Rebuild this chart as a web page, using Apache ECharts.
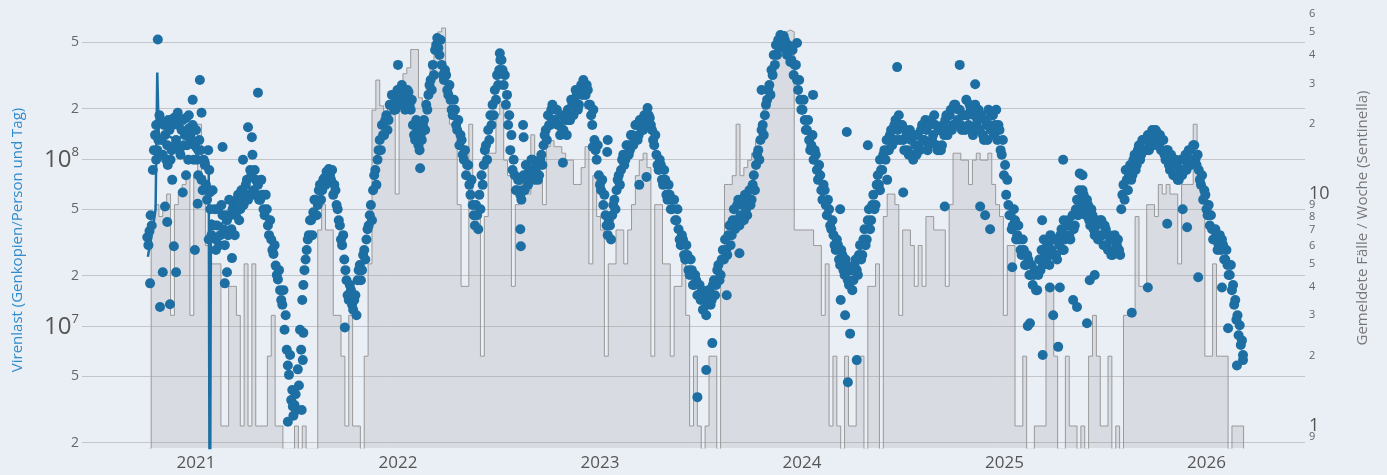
<!DOCTYPE html>
<html>
<head>
<meta charset="utf-8">
<script src="https://cdn.jsdelivr.net/npm/echarts@6/dist/echarts.min.js"></script>
<style>
  html, body { margin: 0; padding: 0; background: #eaeef5; }
  #chart { width: 1387px; height: 475px; }
</style>
</head>
<body>
<div id="chart"></div>
<script>
// Viral load in wastewater, millions of gene copies per person and day.
// Two interleaved runs of readings, each one reading every 4 days.
const loadStepDays = 4;
const loadStartA = '2020-10-05';
const loadMillionsA = [
  34, 37, 40, 113, 160, 130, 171, 106, 139, 121,
  149, 113, 176, 130, 160, 106, 171, 139, 121, 153,
  130, 99, 149, 80, 113, 65, 92, 57, 86, 35,
  40, 33, 50, 35, 46, 30.5, 43, 57, 38, 53,
  46, 61, 50, 65, 57, 75, 61, 80, 65, 75,
  70, 57, 61, 46, 50, 35, 33, 27, 23, 19,
  16.4, 13.4, 9.5, 7.2, 5.1, 3.6, 2.9, 3.9, 5.5, 9.5,
  14.3, 21.6, 28.5, 35, 43, 48, 57, 53, 70, 65,
  77, 84, 87, 75, 61, 65, 50, 40, 30.5, 25,
  18.8, 14.3, 16.4, 12.5, 15.3, 18.8, 23.2, 21.6, 28.5, 33,
  40, 53, 65, 86, 99, 130, 160, 139, 183, 171,
  211, 242, 197, 259, 226, 277, 242, 211, 252, 197,
  160, 130, 149, 113, 130, 171, 211, 242, 297, 366,
  450, 530, 420, 366, 297, 318, 242, 226, 183, 197,
  149, 121, 130, 99, 80, 92, 61, 53, 40, 46,
  61, 80, 92, 121, 149, 183, 211, 259, 318, 341,
  392, 277, 211, 160, 113, 86, 80, 65, 75, 57,
  80, 92, 70, 86, 99, 75, 92, 80, 106, 121,
  149, 183, 160, 211, 171, 197, 160, 183, 149, 171,
  197, 171, 211, 226, 242, 211, 277, 297, 242, 259,
  211, 160, 130, 99, 80, 65, 53, 46, 35, 40,
  46, 57, 65, 80, 86, 106, 99, 121, 113, 139,
  130, 160, 139, 171, 149, 183, 202, 176, 149, 121,
  106, 86, 92, 70, 75, 57, 61, 50, 57, 43,
  38, 30.5, 33, 25, 26.6, 20.2, 21.6, 17.6, 18.8, 15.3,
  14.3, 12.5, 15.3, 13.4, 16.4, 14.3, 18.8, 17.6, 23.2, 20.2,
  28.5, 33, 26.6, 40, 35, 50, 43, 57, 46, 53,
  61, 46, 65, 57, 80, 92, 113, 130, 160, 183,
  226, 277, 341, 420, 482, 516, 553, 482, 516, 420,
  450, 392, 318, 366, 259, 226, 197, 171, 149, 130,
  121, 99, 106, 75, 80, 57, 65, 46, 50, 38,
  35, 28.5, 30.5, 23.2, 26.6, 20.2, 23.2, 17.6, 21.6, 18.8,
  25, 20.2, 30.5, 26.6, 38, 33, 50, 43, 61, 53,
  80, 99, 86, 113, 130, 113, 149, 130, 171, 149,
  130, 160, 113, 139, 106, 130, 99, 121, 139, 113,
  160, 130, 149, 121, 171, 139, 160, 113, 149, 121,
  139, 183, 149, 197, 160, 211, 171, 197, 149, 183,
  226, 160, 197, 139, 211, 171, 149, 183, 130, 160,
  197, 149, 183, 160, 130, 149, 106, 80, 61, 53,
  46, 40, 43, 35, 33, 26.6, 28.5, 23.2, 25, 20.2,
  17.6, 21.6, 16.4, 25, 28.5, 33, 25, 30.5, 35, 26.6,
  33, 25, 30.5, 38, 28.5, 35, 43, 33, 46, 40,
  57, 65, 53, 61, 46, 53, 40, 46, 35, 40,
  35, 43, 30.5, 38, 28.5, 33, 26.6, 35, 30.5, 28.5,
  50, 70, 86, 65, 92, 80, 106, 92, 121, 106,
  130, 113, 139, 121, 149, 130, 145, 121, 113, 130,
  99, 113, 86, 99, 80, 92, 75, 99, 86, 106,
  92, 113, 99, 121, 92, 86, 70, 57, 61, 46,
  40, 38, 33, 35, 30.5, 28.5, 30.5, 25, 23.2, 20.2,
  16.4, 13.4, 10.9, 8.8, 7.7, 6.7
];
const loadStartB = '2020-10-07';
const loadMillionsB = [
  30.5, 46, 86, 139, 113, 183, 130, 160, 99, 171,
  99, 160, 121, 183, 113, 149, 121, 176, 99, 139,
  160, 121, 99, 130, 75, 99, 70, 113, 50, 65,
  50, 40, 30.5, 53, 38, 46, 35, 46, 50, 35,
  57, 43, 65, 53, 70, 57, 86, 61, 86, 61,
  57, 75, 50, 61, 40, 43, 28.5, 30.5, 20.2, 21.6,
  14.3, 16.4, 11.6, 5.8, 6.7, 4.14, 3.36, 3.14, 4.4, 7.2,
  17.6, 25, 33, 43, 35, 57, 46, 65, 57, 75,
  70, 75, 80, 86, 70, 53, 43, 33, 35, 21.6,
  15.3, 17.6, 13.4, 14.3, 11.6, 21.6, 18.8, 26.6, 25, 38,
  46, 43, 80, 70, 113, 113, 139, 171, 149, 211,
  242, 197, 226, 211, 259, 226, 197, 259, 211, 226,
  139, 171, 121, 139, 160, 149, 197, 277, 259, 318,
  482, 462, 516, 318, 341, 259, 277, 197, 226, 160,
  171, 139, 106, 113, 92, 70, 75, 46, 53, 38,
  50, 70, 113, 99, 130, 160, 183, 226, 277, 392,
  341, 318, 242, 183, 139, 99, 65, 75, 61, 65,
  65, 75, 86, 99, 80, 86, 75, 99, 92, 139,
  130, 160, 197, 171, 197, 160, 139, 149, 183, 139,
  171, 226, 183, 259, 197, 259, 242, 259, 277, 211,
  183, 197, 113, 121, 70, 75, 61, 40, 43, 33,
  53, 50, 75, 70, 99, 92, 121, 106, 139, 121,
  160, 130, 171, 149, 183, 160, 183, 160, 130, 139,
  92, 99, 75, 86, 61, 70, 50, 57, 43, 50,
  33, 35, 26.6, 30.5, 21.6, 25, 17.6, 20.2, 15.3, 17.6,
  16.4, 14.3, 11.6, 16.4, 13.4, 17.6, 15.3, 21.6, 18.8, 25,
  25, 28.5, 35, 30.5, 43, 38, 53, 40, 57, 43,
  50, 57, 53, 70, 65, 106, 99, 149, 139, 211,
  259, 242, 318, 366, 420, 462, 502, 545, 450, 482,
  381, 450, 366, 297, 297, 197, 226, 149, 171, 113,
  139, 113, 86, 92, 65, 70, 53, 57, 40, 43,
  30.5, 33, 25, 28.5, 21.6, 25, 18.8, 21.6, 16.4, 23.2,
  21.6, 26.6, 25, 33, 30.5, 43, 38, 53, 50, 70,
  70, 86, 106, 99, 113, 139, 121, 160, 130, 183,
  160, 130, 149, 113, 149, 106, 139, 106, 121, 149,
  130, 171, 113, 160, 130, 183, 121, 149, 113, 160,
  171, 139, 183, 149, 211, 160, 197, 160, 183, 149,
  183, 211, 149, 183, 160, 197, 183, 139, 171, 130,
  160, 183, 139, 197, 160, 113, 130, 92, 75, 46,
  38, 50, 33, 40, 28.5, 33, 23.2, 26.6, 20.2, 23.2,
  20.2, 16.4, 20.2, 21.6, 23.2, 26.6, 30.5, 23.2, 28.5, 33,
  26.6, 33, 35, 28.5, 33, 40, 35, 40, 38, 50,
  46, 53, 65, 50, 57, 43, 50, 38, 43, 33,
  43, 35, 40, 30.5, 35, 26.6, 33, 28.5, 33, 26.6,
  61, 57, 75, 80, 75, 99, 86, 113, 99, 130,
  113, 130, 113, 139, 121, 149, 121, 139, 130, 106,
  113, 92, 106, 80, 99, 75, 86, 80, 99, 86,
  113, 92, 121, 99, 106, 75, 80, 65, 50, 53,
  46, 33, 38, 28.5, 35, 33, 25, 28.5, 20.2, 23.2,
  17.6, 14.3, 11.6, 10.1, 8.2
];

// Readings that sit away from the main band: [date, millions]
const loadSingles = [
  ['2020-10-10', 18], ['2020-10-24', 520], ['2020-10-28', 13], ['2020-11-15', 13.5],
  ['2020-11-02', 21], ['2020-11-06', 52], ['2020-11-10', 42], ['2020-11-22', 30],
  ['2020-11-26', 21], ['2020-12-08', 63], ['2020-12-26', 226], ['2021-01-08', 297],
  ['2020-12-30', 28.5], ['2021-01-04', 54], ['2020-11-29', 189], ['2021-01-11', 189],
  ['2021-02-18', 118], ['2021-02-22', 18], ['2021-02-26', 21], ['2021-04-05', 155],
  ['2021-04-12', 135], ['2021-04-13', 106], ['2021-03-27', 99], ['2021-04-23', 249],
  ['2021-06-16', 2.67], ['2021-06-25', 3.3], ['2021-07-11', 3.14], ['2021-07-13', 6.25],
  ['2021-07-14', 9.1], ['2021-09-27', 9.8], ['2022-01-01', 366], ['2022-02-10', 88],
  ['2022-07-04', 430], ['2022-08-15', 160], ['2022-08-16', 135], ['2022-08-10', 38],
  ['2022-08-11', 30], ['2022-10-26', 95], ['2022-12-19', 118], ['2023-01-15', 130],
  ['2023-01-14', 110], ['2023-03-13', 70], ['2023-03-26', 78], ['2023-07-23', 7.9],
  ['2023-07-12', 5.45], ['2023-06-26', 3.75], ['2023-08-18', 15.3], ['2023-09-10', 27.3],
  ['2023-10-20', 259], ['2023-12-23', 495], ['2024-01-21', 242], ['2024-03-22', 145],
  ['2024-03-10', 50], ['2024-03-11', 14.3], ['2024-03-19', 11.6], ['2024-03-28', 9],
  ['2024-04-09', 6.25], ['2024-03-24', 4.6], ['2024-04-29', 121], ['2024-06-21', 355],
  ['2024-07-02', 63], ['2024-05-21', 65], ['2024-06-03', 75], ['2024-10-12', 366],
  ['2024-11-09', 280], ['2024-09-15', 52], ['2024-11-18', 52], ['2024-11-27', 46],
  ['2024-12-06', 38], ['2025-01-15', 22.5], ['2025-02-16', 10.4], ['2025-03-11', 6.7],
  ['2025-04-08', 7.5], ['2025-03-30', 11.6], ['2025-03-24', 17], ['2025-04-11', 17],
  ['2025-03-10', 43], ['2025-04-17', 99], ['2025-05-05', 14.3], ['2025-05-12', 13],
  ['2025-05-30', 10.4], ['2025-05-17', 82], ['2025-06-04', 18.8], ['2025-08-19', 12],
  ['2025-09-17', 17], ['2025-10-22', 41], ['2025-11-19', 50], ['2025-11-27', 39],
  ['2025-12-17', 19.6], ['2026-01-29', 17], ['2026-02-09', 9.7], ['2026-02-25', 5.8],
  ['2026-03-08', 6.25], ['2025-04-18', 43], ['2025-06-13', 20.2], ['2025-05-22', 80],
  ['2025-02-12', 10], ['2020-10-21', 99], ['2020-11-11', 92], ['2020-11-19', 75],
  ['2020-12-14', 80], ['2020-12-19', 183], ['2021-01-17', 95], ['2021-01-26', 63],
  ['2021-01-24', 33], ['2021-02-06', 28.5], ['2021-03-07', 25.5]
];

// Connecting line of the first season (millions); 0 = below detection
const loadTrend = [
  ['2020-10-06', 26], ['2020-10-13', 35], ['2020-10-20', 50], ['2020-10-23', 330],
  ['2020-10-26', 130], ['2020-11-10', 139], ['2020-11-25', 130], ['2020-12-10', 139],
  ['2020-12-28', 113], ['2021-01-15', 92], ['2021-01-24', 86], ['2021-01-26', 0],
  ['2021-01-28', 43], ['2021-02-15', 40], ['2021-03-10', 53], ['2021-04-01', 70],
  ['2021-04-20', 60]
];

// Sentinella: reported cases per week, weeks starting on Monday
const casesStart = '2020-10-05';
const casesWeekly = [
  0,
  8, 9, 8, 9, 10, 3, 9, 10, 11, 12,
  3, 12, 20, 12, 6, 5, 5, 5, 1, 1,
  4, 4, 3, 1, 5, 1, 5, 1, 1, 1,
  2, 3, 1, 1, 0, 0, 0, 1, 0, 1,
  0, 0, 0, 7, 9, 7, 7, 3, 3, 2,
  1, 3, 1, 1, 0, 2, 5, 23, 31, 24,
  22, 24, 22, 10, 30, 33, 35, 42, 42, 26,
  24, 30, 36, 45, 50, 52, 30, 20, 19, 9,
  4, 4, 20, 9, 8, 2, 8, 15, 15, 22,
  25, 14, 12, 4, 9, 11, 12, 10, 18, 12,
  12, 9, 16, 17, 16, 16, 15, 14, 14, 11,
  11, 13, 16, 5, 12, 8, 7, 2, 5, 5,
  7, 7, 5, 7, 9, 12, 14, 15, 13, 2,
  9, 9, 5, 5, 2, 4, 4, 5, 3, 1,
  2, 1, 0, 1, 2, 2, 0, 5, 11, 11,
  12, 20, 12, 13, 14, 15, 17, 20, 24, 28,
  32, 40, 45, 50, 51, 50, 7, 7, 7, 7,
  7, 6, 6, 3, 5, 1, 2, 1, 0, 2,
  1, 1, 2, 2, 0, 4, 4, 5, 0, 8,
  10, 10, 9, 3, 7, 7, 6, 4, 6, 4,
  8, 8, 7, 7, 7, 4, 9, 15, 15, 14,
  14, 11, 14, 15, 14, 14, 15, 11, 9, 8,
  3, 6, 6, 1, 1, 2, 0, 0, 1, 1,
  1, 4, 4, 2, 0, 0, 2, 1, 1, 0,
  1, 0, 2, 3, 2, 1, 1, 2, 0, 1,
  0, 3, 3, 3, 8, 4, 4, 9, 9, 8,
  11, 10, 11, 10, 10, 5, 11, 11, 11, 20,
  11, 10, 2, 2, 5, 2, 2, 2, 0, 1,
  1, 1,
  0
];

// Axis ticks
const yearTicks = ['2021-01-01', '2022-01-01', '2023-01-01', '2024-01-01', '2025-01-01', '2026-01-01'];
const loadTicks = [2e6, 5e6, 1e7, 2e7, 5e7, 1e8, 2e8, 5e8];
const caseTicks = [1, 2, 3, 4, 5, 6, 7, 8, 9, 10, 20, 30, 40, 50, 60];
const caseTicksBelowOne = [0.9];
const xRange = ['2020-06-09', '2026-06-28'];
const loadRange = [1.86e6, 8.02e8];
const caseRange = [0.804, 63.4];

const DAY = 86400000;
function ts(s) { const p = s.split('-').map(Number); return Date.UTC(p[0], p[1] - 1, p[2]); }
const lg = Math.log10;
const LOAD_FLOOR = lg(loadRange[0]) - 1;   // zero readings fall below the frame
const CASE_FLOOR = lg(caseRange[0]) - 1;

const toLoad = m => (m > 0 ? lg(m * 1e6) : LOAD_FLOOR);
const run = (start, list) => list.map((m, i) => [ts(start) + i * loadStepDays * DAY, toLoad(m)]);
const dotData = run(loadStartA, loadMillionsA)
  .concat(run(loadStartB, loadMillionsB))
  .concat(loadSingles.map(([d, m]) => [ts(d), toLoad(m)]));
const trendData = loadTrend.map(([d, m]) => [ts(d), toLoad(m)]);
const c0 = ts(casesStart);
const caseData = casesWeekly.map((c, k) => [c0 + k * 7 * DAY, c > 0 ? lg(c) : CASE_FLOOR]);

const FONT = "'Open Sans', 'Noto Sans', sans-serif";
const BLUE = '#1d6fa3';
const TICK = '#666';

// right-hand case axis: 1 and 10 in large type, the steps between as single digits
function caseLabel(v) {
  const c = Math.round(Math.pow(10, v) * 10) / 10;
  if (c === 1 || c === 10) return '{major|' + c + '}';
  if (c < 1) return '{minor|' + Math.round(c * 10) + '}';
  if (c > 10) return '{minor|' + Math.round(c / 10) + '}';
  return '{minor|' + c + '}';
}
const caseRich = {
  major: { fontSize: 18, color: '#555', fontFamily: FONT },
  minor: { fontSize: 11, color: TICK, fontFamily: FONT }
};
function caseAxis(ticks) {
  return {
    type: 'value',
    position: 'right',
    min: lg(caseRange[0]),
    max: lg(caseRange[1]),
    axisLine: { show: false },
    axisTick: { show: false, customValues: ticks.map(lg) },
    splitLine: { show: false },
    axisLabel: {
      customValues: ticks.map(lg),
      margin: 4,
      hideOverlap: false,
      formatter: caseLabel,
      rich: caseRich
    }
  };
}

const chart = echarts.init(document.getElementById('chart'), null, { renderer: 'canvas' });
chart.setOption({
  backgroundColor: '#eaeef5',
  animation: false,
  textStyle: { fontFamily: FONT },
  grid: { left: 82, right: 82, top: 8, bottom: 27, containLabel: false },
  xAxis: {
    // time in ms on a linear scale, labelled at each new year
    type: 'value',
    min: ts(xRange[0]),
    max: ts(xRange[1]),
    axisLine: { show: false },
    axisTick: { show: false, customValues: yearTicks.map(ts) },
    splitLine: { show: false },
    axisLabel: {
      customValues: yearTicks.map(ts),
      formatter: v => String(new Date(v).getUTCFullYear()),
      color: '#555', fontSize: 17, margin: 7, fontFamily: FONT
    }
  },
  yAxis: [
    {
      type: 'value',
      position: 'left',
      min: lg(loadRange[0]),
      max: lg(loadRange[1]),
      axisLine: { show: false },
      axisTick: { show: false, customValues: loadTicks.map(lg) },
      splitLine: { show: true, lineStyle: { color: '#c2c5c9', width: 1 } },
      axisLabel: {
        customValues: loadTicks.map(lg),
        margin: 3,
        hideOverlap: false,
        formatter: v => {
          const exp = Math.floor(v + 1e-9);
          const mant = Math.round(Math.pow(10, v - exp));
          return mant === 1 ? '{pow|10}{sup|' + exp + '}' : '{minor|' + mant + '}';
        },
        rich: {
          pow: { fontSize: 24, color: '#555', fontFamily: FONT, verticalAlign: 'bottom', lineHeight: 26 },
          sup: { fontSize: 13, color: '#555', fontFamily: FONT, verticalAlign: 'top', lineHeight: 26 },
          minor: { fontSize: 14, color: TICK, fontFamily: FONT }
        }
      }
    },
    caseAxis(caseTicks),
    caseAxis(caseTicksBelowOne)
  ],
  graphic: [
    {
      type: 'text', x: 18, y: 240, rotation: Math.PI / 2, silent: true,
      style: {
        text: 'Virenlast (Genkopien/Person und Tag)', fill: '#2f8ccc',
        font: '15px ' + FONT, textAlign: 'center', textVerticalAlign: 'middle'
      }
    },
    {
      type: 'text', x: 1363, y: 218, rotation: Math.PI / 2, silent: true,
      style: {
        text: 'Gemeldete Fälle / Woche (Sentinella)', fill: '#777',
        font: '15px ' + FONT, textAlign: 'center', textVerticalAlign: 'middle'
      }
    }
  ],
  series: [
    {
      name: 'Gemeldete Fälle',
      type: 'line',
      yAxisIndex: 1,
      step: 'end',
      showSymbol: false,
      silent: true,
      z: 1,
      lineStyle: { color: '#999', width: 1 },
      areaStyle: { color: 'rgba(150,150,150,0.3)', origin: 'start' },
      data: caseData
    },
    {
      name: 'Virenlast Verlauf',
      type: 'line',
      yAxisIndex: 0,
      showSymbol: false,
      silent: true,
      z: 2,
      lineStyle: { color: BLUE, width: 2.5 },
      data: trendData
    },
    {
      name: 'Virenlast',
      type: 'scatter',
      yAxisIndex: 0,
      symbol: 'circle',
      symbolSize: 10,
      silent: true,
      z: 3,
      itemStyle: { color: BLUE, opacity: 1 },
      data: dotData
    }
  ]
});
</script>
</body>
</html>
